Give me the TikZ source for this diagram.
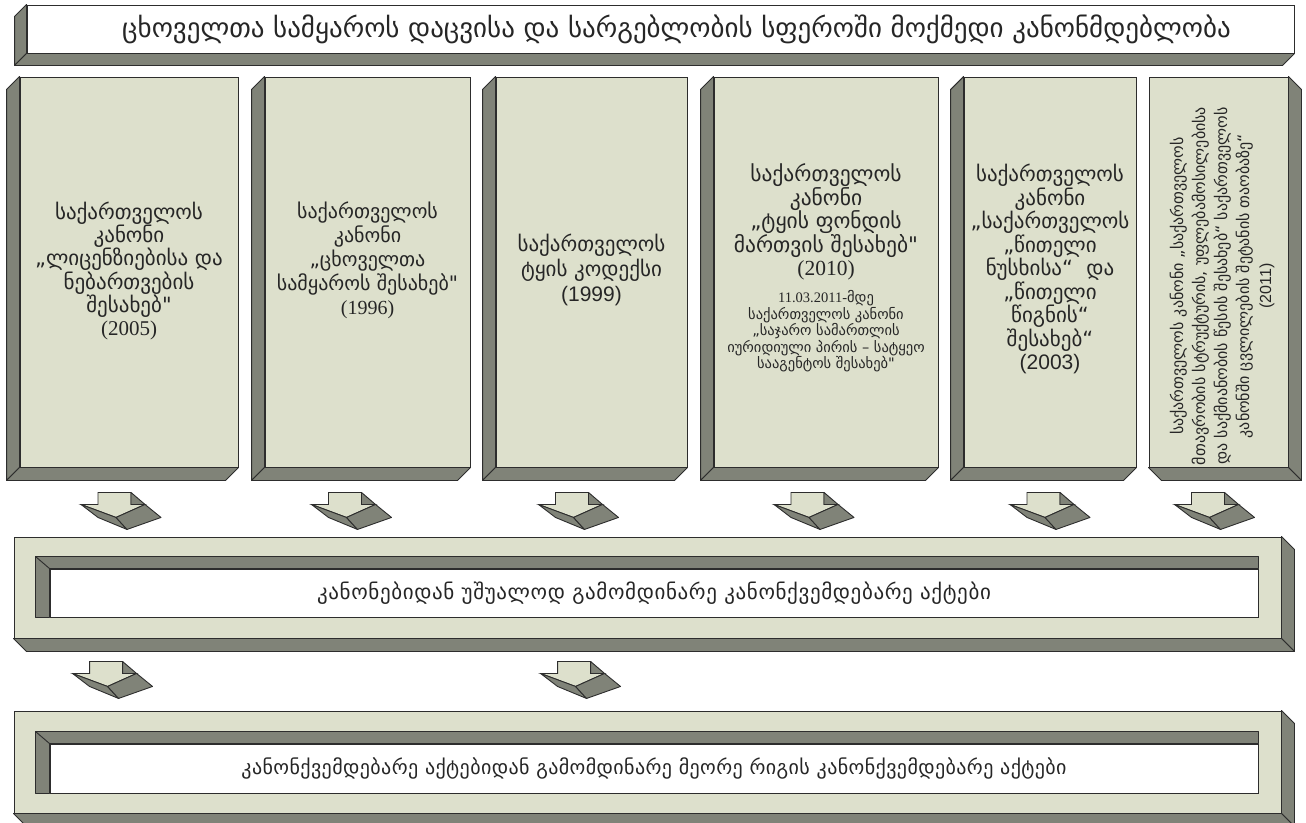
\documentclass[tikz,border=0pt]{standalone}
\usepackage{fontspec}
\setmainfont{DejaVu Sans}[Ligatures=TeXOff]
\newfontfamily\yearserif{Liberation Serif}
\newfontfamily\yearsans{Liberation Sans}
\usetikzlibrary{positioning,calc}

\definecolor{facelight}{RGB}{221,224,204}
\definecolor{facedark}{RGB}{128,131,120}
\definecolor{edgeline}{RGB}{45,45,45}
\definecolor{inktext}{RGB}{38,38,38}

\tikzset{
  front/.style={draw=edgeline,fill=facelight,line width=0.9pt},
  side/.style={draw=edgeline,fill=facedark,line width=0.9pt,line join=round},
  lawcol/.style={front,minimum height=390pt,inner sep=0pt},
  lawtext/.style={align=center,text=inktext,inner sep=0pt},
  actbar/.style={front,minimum width=1267pt,inner sep=0pt},
  actwhite/.style={draw=edgeline,fill=white,line width=0.9pt,minimum width=1208pt,
    inner sep=0pt,text=inktext},
  downarr/.pic={
    \draw[front] (-17,12) -- (0,12) -- (0,0) -- (33,0) -- (33,12) -- (47,12) -- (18,25) -- cycle;
    \draw[side] (33,0) -- (47,12) -- (33,12) -- cycle;
    \draw[side] (-17,12) -- (0,25) -- (29,37) -- (18,25) -- cycle;
    \draw[side] (18,25) -- (47,12) -- (63,25) -- (29,37) -- cycle;
  }
}

\begin{document}
\begin{tikzpicture}[x=1pt,y=-1pt]
\clip (0,0) rectangle (1306,822);
\fill[white] (0,0) rectangle (1306,822);

% title bar
\node[draw=edgeline,fill=white,line width=0.9pt,minimum width=1267pt,minimum height=48pt,
  inner sep=0pt] (t) at (660.5,29) {};
\node[text=inktext,inner sep=0pt,font=\fontsize{27}{30}\selectfont] (tt) at ($(t.center)+(16,0)$)
  {ცხოველთა სამყაროს დაცვისა და სარგებლობის სფეროში მოქმედი კანონმდებლობა};
\draw[side] (t.north west) -- (t.south west) -- ++(-12,12) -- ($(t.north west)+(-12,12)$) -- cycle;
\draw[side] (t.south west) -- (t.south east) -- ++(-12,12) -- ($(t.south west)+(-12,12)$) -- cycle;

% the law columns
\node[lawcol,minimum width=218pt] (c1) at (129,272) {};
\node[lawcol,minimum width=205pt] (c2) at (367.5,272) {};
\node[lawcol,minimum width=191pt] (c3) at (591.5,272) {};
\node[lawcol,minimum width=224pt] (c4) at (826,272) {};
\node[lawcol,minimum width=172pt] (c5) at (1050,272) {};
\node[lawcol,minimum width=139pt] (c6) at (1218.5,272) {};

% depth of the columns
\foreach \c in {c1,c2,c3,c4,c5}{
  \draw[side] (\c.north west) -- (\c.south west) -- ++(-13,13) -- ($(\c.north west)+(-13,13)$) -- cycle;
  \draw[side] (\c.south west) -- (\c.south east) -- ++(-13,13) -- ($(\c.south west)+(-13,13)$) -- cycle;
}
\draw[side] (c6.north east) -- (c6.south east) -- ++(13,13) -- ($(c6.north east)+(13,13)$) -- cycle;
\draw[side] (c6.south west) -- (c6.south east) -- ++(13,13) -- ($(c6.south west)+(13,13)$) -- cycle;

% texts of the columns
\node[lawtext,font=\fontsize{21}{23.3}\selectfont] (c1t) at ($(c1.center)+(0,-1)$)
  {საქართველოს\\კანონი\\„ლიცენზიებისა და\\ნებართვების\\შესახებ"\\{\yearserif (2005)}};
\node[lawtext,font=\fontsize{20}{24}\selectfont] (c2t) at ($(c2.center)+(0,-12)$)
  {საქართველოს\\კანონი\\„ცხოველთა\\სამყაროს შესახებ"\\{\yearserif (1996)}};
\node[lawtext,font=\fontsize{21}{25}\selectfont] (c3t) at ($(c3.center)+(0,-2)$)
  {საქართველოს\\ტყის კოდექსი\\{\yearsans (1999)}};
\node[lawtext,font=\fontsize{21.5}{23.5}\selectfont] (c4t) at (826,222)
  {საქართველოს\\კანონი\\„ტყის ფონდის\\მართვის შესახებ"\\{\yearserif (2010)}};
\node[lawtext,font=\fontsize{14.5}{15.3}\selectfont,below=10pt of c4t] (c4s)
  {{\yearserif 11.03.2011-}მდე\\საქართველოს კანონი\\„საჯარო სამართლის\\იურიდიული პირის – სატყეო\\სააგენტოს შესახებ"};
\node[lawtext,font=\fontsize{21}{23.5}\selectfont] (c5t) at ($(c5.center)+(0,-3)$)
  {საქართველოს\\კანონი\\„საქართველოს\\„წითელი\\ნუსხისა“~~და\\„წითელი\\წიგნის“\\შესახებ“\\{\yearsans (2003)}};
\node[lawtext,rotate=90,font=\fontsize{16}{22}\selectfont] (c6t) at (1222,286)
  {საქართველოს კანონი „საქართველოს\\მთავრობის სტრუქტურის, უფლებამოსილებისა\\და საქმიანობის წესის შესახებ“ საქართველოს\\კანონში ცვლილების შეტანის თაობაზე“\\{\yearsans (2011)}};

% arrows under the columns
\foreach \c/\dx in {c1/-31,c2/-39,c3/-36,c4/-35,c5/-23,c6/-27}
  \pic at ($(\c.south)+(\dx,25)$) {downarr};

% first bar
\node[actbar,minimum height=101pt] (b1) at (647.5,587.5) {};
\node[actwhite,minimum height=48pt,font=\fontsize{21}{24}\selectfont\addfontfeature{LetterSpace=3}] (w1) at (654,593)
  {კანონებიდან უშუალოდ გამომდინარე კანონქვემდებარე აქტები};
% second bar
\node[actbar,minimum height=102pt] (b2) at (647.5,762) {};
\node[actwhite,minimum height=49pt,font=\fontsize{20}{24}\selectfont\addfontfeature{LetterSpace=2}] (w2) at (654,768.5)
  {კანონქვემდებარე აქტებიდან გამომდინარე მეორე რიგის კანონქვემდებარე აქტები};

% depth and recess of the bars
\foreach \b/\w in {b1/w1,b2/w2}{
  \draw[side] (\b.north east) -- ++(13,13) -- ($(\b.south east)+(13,13)$) -- (\b.south east) -- cycle;
  \draw[side] (\b.south west) -- (\b.south east) -- ++(13,13) -- ($(\b.south west)+(13,13)$) -- cycle;
  \draw[side] ($(\w.north west)+(-14,-12)$) -- ($(\w.north east)+(0,-12)$) -- (\w.north east)
    -- (\w.north west) -- (\w.south west) -- ($(\w.south west)+(-14,0)$) -- cycle;
  \draw[edgeline,line width=0.9pt] ($(\w.north west)+(-14,-12)$) -- (\w.north west);
}

% arrows under the first bar
\pic at ($(b1.south west)+(76,23)$) {downarr};
\pic at ($(b1.south west)+(544,23)$) {downarr};
\end{tikzpicture}
\end{document}
